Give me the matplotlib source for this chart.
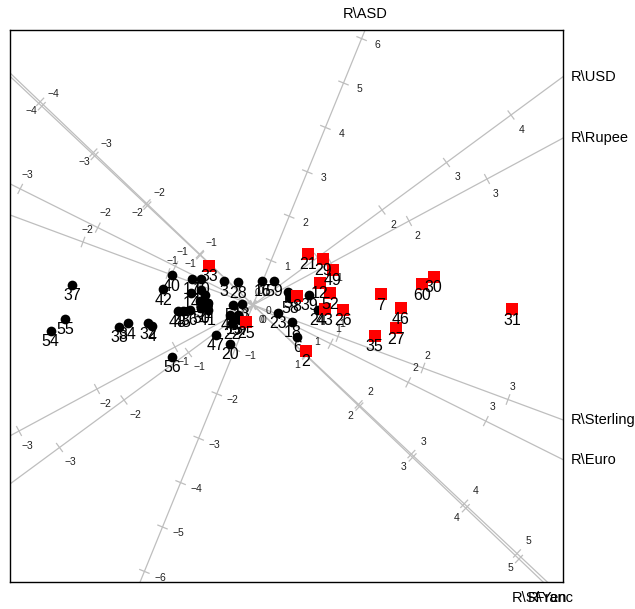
import matplotlib.pyplot as plt

plt.rcParams['font.family'] = ['Liberation Sans', 'DejaVu Sans']

# biplot axes: where one unit of each variable lands in the plot
var_names = ['R\\ASD', 'R\\USD', 'R\\Rupee', 'R\\Sterling', 'R\\Euro', 'R\\Yen', 'R\\SFranc']
var_dx = [0.181, 0.645, 0.780, 0.850, 0.776, 0.528, 0.532]
var_dy = [0.444, 0.475, 0.420, -0.315, -0.387, -0.497, -0.508]

# group 1 (black dots)
blk_lab = ['37', '55', '54', '38', '34', '32', '4', '42', '40', '17', '10', '3', '28', '16',
           '59', '14', '11', '19', '9', '1', '48', '45', '36', '50', '41', '51', '13', '44',
           '53', '15', '22', '57', '47', '20', '56', '23', '18', '6', '24', '39', '5', '58']
blk_x = [-1.807, -1.88, -2.023, -1.337, -1.253, -1.047, -1.013, -0.897, -0.81, -0.61, -0.517,
         -0.29, -0.15, 0.093, 0.21, -0.617, -0.517, -0.477, -0.533, -0.45, -0.75, -0.70,
         -0.633, -0.517, -0.45, -0.197, -0.113, -0.23, -0.147, -0.18, -0.213, -0.13, -0.37,
         -0.23, -0.81, 0.247, 0.393, 0.443, 0.653, 0.563, 0.347, 0.37]
blk_y = [0.20, -0.14, -0.257, -0.217, -0.183, -0.183, -0.21, 0.157, 0.297, 0.26, 0.26,
         0.243, 0.227, 0.24, 0.24, 0.12, 0.153, 0.097, 0.037, 0.02, -0.063, -0.063,
         -0.047, -0.03, -0.047, 0.0, 0.01, -0.10, -0.10, -0.133, -0.183, -0.15, -0.30,
         -0.39, -0.52, -0.077, -0.167, -0.317, -0.05, 0.10, 0.127, 0.07]

# group 2 (red squares)
red_lab = ['33', '21', '29', '49', '12', '52', '43', '26', '7', '46', '60', '30', '31',
           '35', '27', '2', '25', '8']
red_x = [-0.44, 0.547, 0.697, 0.797, 0.67, 0.77, 0.72, 0.897, 1.28, 1.48, 1.687, 1.807,
         2.59, 1.217, 1.43, 0.53, -0.07, 0.437]
red_y = [0.393, 0.51, 0.457, 0.35, 0.223, 0.117, -0.043, -0.05, 0.107, -0.033, 0.207,
         0.283, -0.043, -0.31, -0.233, -0.457, -0.173, 0.093]

# side of each axis the tick numbers sit on, and how far off
tick_side = [1, 1, 1, -1, -1, -1, 1]
tick_gap = [0.17, 0.185, 0.17, 0.13, 0.16, 0.17, 0.13]

xmin, xmax = -2.43, 3.10
ymin, ymax = -2.77, 2.75
grey = '#BEBEBE'

fig = plt.figure(figsize=(6.35, 6.09), dpi=100)
ax = fig.add_axes([10 / 635, 27 / 609, 553 / 635, 552 / 609])
ax.set_xlim(xmin, xmax)
ax.set_ylim(ymin, ymax)
ax.set_xticks([])
ax.set_yticks([])
for s in ax.spines.values():
    s.set_linewidth(1.0)


def reach(dx, dy):
    # distance along (dx, dy) until the box edge, and which edge
    tx = xmax / dx if dx > 0 else (xmin / dx if dx < 0 else 1e9)
    ty = ymax / dy if dy > 0 else (ymin / dy if dy < 0 else 1e9)
    if tx < ty:
        return tx, ('right' if dx > 0 else 'left')
    return ty, ('top' if dy > 0 else 'bottom')


for i, name in enumerate(var_names):
    dx, dy = var_dx[i], var_dy[i]
    ln = (dx ** 2 + dy ** 2) ** 0.5
    nx, ny = dy / ln, -dx / ln
    t1, edge = reach(dx, dy)
    t0, _ = reach(-dx, -dy)
    ax.plot([-t0 * dx, t1 * dx], [-t0 * dy, t1 * dy], color=grey, lw=0.9, zorder=1)

    for k in range(-10, 11):
        px, py = k * dx, k * dy
        if not (xmin < px < xmax and ymin < py < ymax):
            continue
        ax.plot([px - 0.05 * nx, px + 0.05 * nx], [py - 0.05 * ny, py + 0.05 * ny],
                color=grey, lw=0.9, zorder=1)
        g = tick_side[i] * tick_gap[i]
        txt = str(k).replace('-', '\u2212')
        ax.text(px + g * nx, py + g * ny, txt, fontsize=7.5, color='#222222',
                ha='center', va='center', zorder=2, clip_on=False)

    ex, ey = t1 * dx, t1 * dy
    if edge == 'top':
        ax.annotate(name, (ex, ey), xytext=(0, 11.5), textcoords='offset points',
                    ha='center', va='center', fontsize=10.5, annotation_clip=False)
    elif edge == 'bottom':
        ax.annotate(name, (ex, ey), xytext=(0, -11.5), textcoords='offset points',
                    ha='center', va='center', fontsize=10.5, annotation_clip=False)
    else:
        ax.annotate(name, (ex, ey), xytext=(5.5, 0), textcoords='offset points',
                    ha='left', va='center', fontsize=10.5, annotation_clip=False)

# black group first, red squares drawn over it
ax.plot(blk_x, blk_y, 'o', color='black', ms=7, mew=0, zorder=3)
for lab, x, y in zip(blk_lab, blk_x, blk_y):
    ax.annotate(lab, (x, y), xytext=(0, -7.8), textcoords='offset points',
                ha='center', va='center', fontsize=11.5, zorder=4)

ax.plot(red_x, red_y, 's', color='#FF0000', ms=8.3, mew=0, zorder=5)
for lab, x, y in zip(red_lab, red_x, red_y):
    ax.annotate(lab, (x, y), xytext=(0, -7.8), textcoords='offset points',
                ha='center', va='center', fontsize=11.5, zorder=6)

fig.savefig('out.png', dpi=100)
